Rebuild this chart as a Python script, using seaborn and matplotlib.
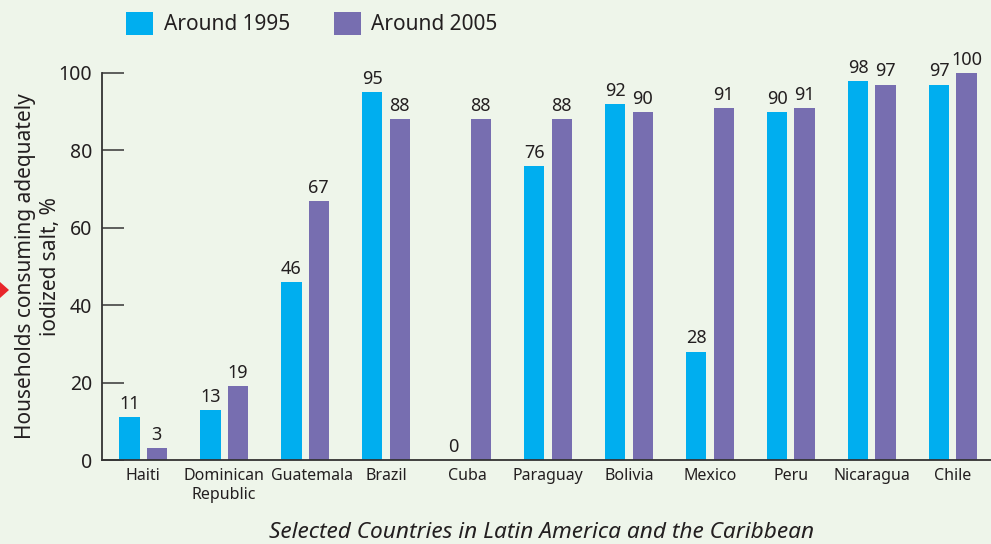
import matplotlib
matplotlib.use("Agg")
import matplotlib.pyplot as plt
import matplotlib.transforms as mtransforms
import seaborn as sns
import pandas as pd
from matplotlib.patches import Patch, Polygon

# Share of households consuming adequately iodized salt (%)
countries = ["Haiti", "Dominican\nRepublic", "Guatemala", "Brazil", "Cuba", "Paraguay",
             "Bolivia", "Mexico", "Peru", "Nicaragua", "Chile"]
around_1995 = [11, 13, 46, 95, 0, 76, 92, 28, 90, 98, 97]
around_2005 = [3, 19, 67, 88, 88, 88, 90, 91, 91, 97, 100]
periods = ["Around 1995", "Around 2005"]
y_ticks = [0, 20, 40, 60, 80, 100]

cyan = "#00AEEF"
purple = "#776EB0"
bg = "#EEF5EA"
ink = "#231F20"

df = pd.DataFrame({
    "country": countries * 2,
    "value": around_1995 + around_2005,
    "period": [periods[0]] * len(countries) + [periods[1]] * len(countries),
})

sns.set_theme(style="white")
plt.rcParams["font.family"] = ["Noto Sans", "DejaVu Sans"]
plt.rcParams["text.color"] = ink

W, H = 991, 544
fig = plt.figure(figsize=(W / 100, H / 100), dpi=100)
fig.patch.set_facecolor(bg)
ax = fig.add_axes([102 / W, 1 - 460 / H, (W - 102) / W, (460 - 73) / H])
ax.set_facecolor(bg)

sns.barplot(data=df, x="country", y="value", hue="period", order=countries,
            hue_order=periods, palette=[cyan, purple], saturation=1,
            width=0.67, gap=0.26, legend=False, linewidth=0, edgecolor="none", ax=ax)

for cont in ax.containers:
    ax.bar_label(cont, fmt="%d", padding=3, fontsize=13, color=ink, clip_on=False)

ax.set_xlim(-0.507, 10.47)
ax.set_ylim(0, 100)
ax.set_yticks(y_ticks)
ax.set_xlabel("")
ax.set_ylabel("Households consuming adequately\niodized salt, %", fontsize=15,
              color=ink, linespacing=1.25)
ax.yaxis.set_label_coords(-0.046, 0.5)

for side in ["top", "right"]:
    ax.spines[side].set_visible(False)
for side in ["left", "bottom"]:
    ax.spines[side].set_color("#333333")
    ax.spines[side].set_linewidth(1.3)

ax.tick_params(axis="y", direction="in", length=16, width=1.2, color="#444444",
               labelsize=14, labelcolor=ink, pad=7, left=True)
ax.tick_params(axis="x", length=0, labelsize=11.5, labelcolor=ink, pad=6)
for lbl in ax.get_xticklabels():
    lbl.set_linespacing(1.25)
    if lbl.get_text() == "Guatemala":
        # nudge right so it does not run into the two-line neighbour
        lbl.set_transform(lbl.get_transform()
                          + mtransforms.ScaledTranslation(7 / 100, 0, fig.dpi_scale_trans))

handles = [Patch(facecolor=cyan, edgecolor="none"), Patch(facecolor=purple, edgecolor="none")]
fig.legend(handles, periods, loc="upper left", bbox_to_anchor=(126 / W, 1 - 12 / H),
           ncol=2, frameon=False, fontsize=15, handlelength=1.3, handleheight=1.3,
           handletextpad=0.5, columnspacing=2.1, borderpad=0, borderaxespad=0)

fig.text(542 / W, 1 - 532 / H, "Selected Countries in Latin America and the Caribbean",
         ha="center", va="center", fontsize=16.3, style="italic", color=ink)

# small red marker on the left margin
fig.patches.append(Polygon([(0, 1 - 282 / H), (9 / W, 1 - 290 / H), (0, 1 - 298 / H)],
                           closed=True, facecolor="#E8262B", edgecolor="none",
                           transform=fig.transFigure))

fig.savefig("out.png", dpi=100, facecolor=bg)
